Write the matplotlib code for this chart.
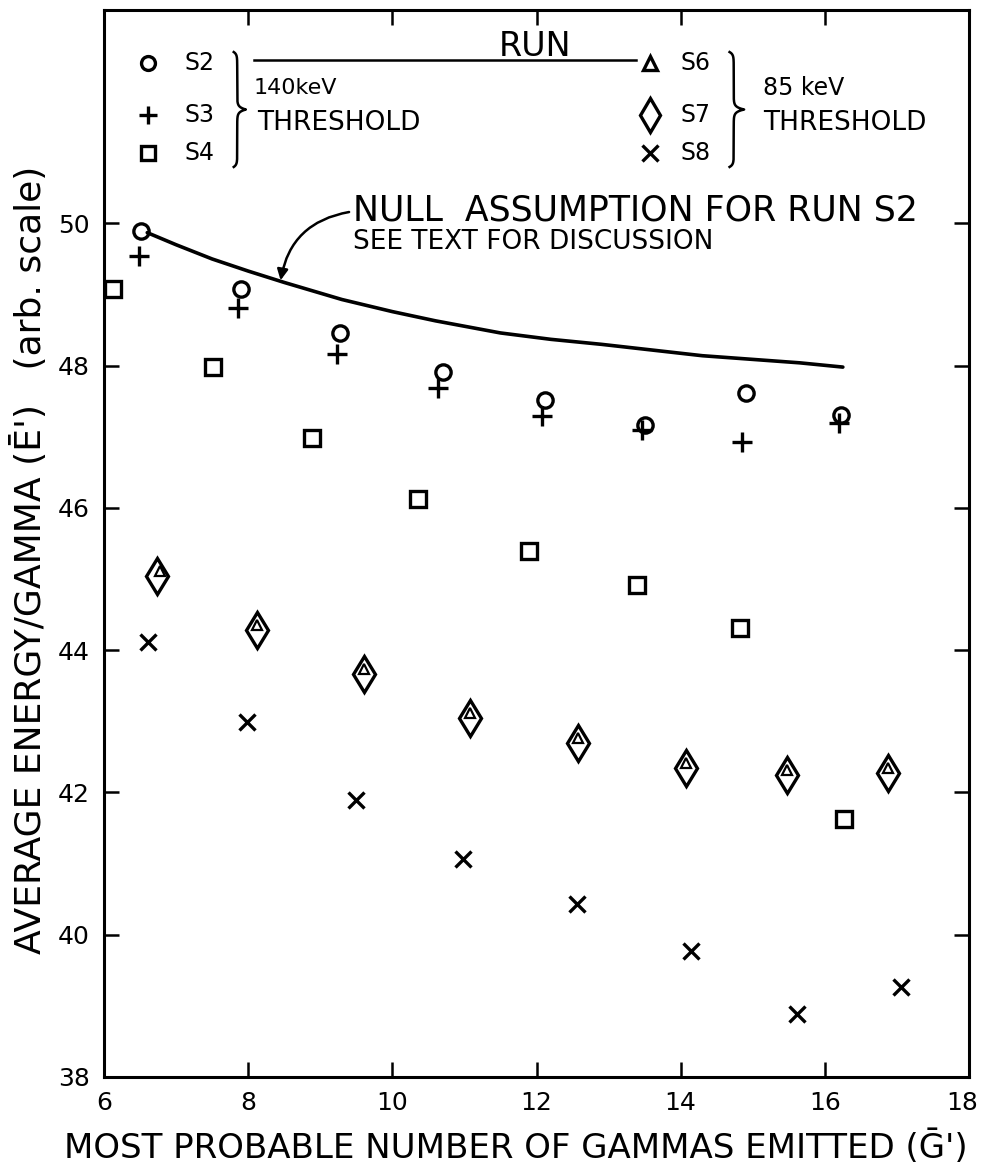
import numpy as np
import matplotlib.pyplot as plt
import matplotlib.transforms as mtransforms

plt.rcParams['font.family'] = ['DejaVu Sans']

# Runs S2-S4: 140 keV threshold
s2_x = [6.52, 7.90, 9.28, 10.70, 12.12, 13.50, 14.90, 16.22]
s2_y = [49.90, 49.08, 48.46, 47.91, 47.52, 47.17, 47.62, 47.31]
s3_x = [6.49, 7.86, 9.23, 10.63, 12.07, 13.46, 14.85, 16.19]
s3_y = [49.54, 48.81, 48.16, 47.68, 47.29, 47.10, 46.92, 47.20]
s4_x = [6.13, 7.51, 8.89, 10.36, 11.89, 13.39, 14.83, 16.27]
s4_y = [49.08, 47.98, 46.99, 46.12, 45.39, 44.91, 44.31, 41.63]

# Runs S6-S8: 85 keV threshold
s6_x = [6.77, 8.12, 9.61, 11.08, 12.57, 14.08, 15.47, 16.87]
s6_y = [45.11, 44.35, 43.73, 43.12, 42.77, 42.41, 42.32, 42.34]
s7_x = [6.73, 8.12, 9.61, 11.08, 12.57, 14.08, 15.47, 16.87]
s7_y = [45.04, 44.28, 43.66, 43.05, 42.70, 42.34, 42.25, 42.27]
s8_x = [6.61, 7.99, 9.49, 10.98, 12.56, 14.14, 15.62, 17.06]
s8_y = [44.11, 42.99, 41.90, 41.07, 40.43, 39.77, 38.89, 39.26]

# null assumption curve for run S2
null_x = [6.60, 7.00, 7.50, 8.00, 8.50, 9.30, 10.00, 10.60, 11.50, 12.20, 12.90, 14.30, 15.65, 16.25]
null_y = [49.87, 49.70, 49.50, 49.33, 49.17, 48.93, 48.76, 48.63, 48.46, 48.37, 48.30, 48.14, 48.04, 47.98]

x_ticks = [6, 8, 10, 12, 14, 16, 18]
y_ticks = [38, 40, 42, 44, 46, 48, 50]

fig = plt.figure(figsize=(9.82, 11.73), dpi=100)
ax = fig.add_axes([104 / 982, 1 - 1077 / 1173, 865 / 982, 1067 / 1173])
ax.set_xlim(6, 18)
ax.set_ylim(38, 53)

mk = dict(linestyle='none', color='black', markerfacecolor='none', markeredgewidth=2.4)
ax.plot(s2_x, s2_y, marker='o', markersize=11, **mk)
ax.plot(s3_x, s3_y, marker='+', markersize=14, **mk)
ax.plot(s4_x, s4_y, marker='s', markersize=11, **mk)
ax.plot(s7_x, s7_y, marker='d', markersize=18, **mk)
ax.plot(s6_x, s6_y, marker='^', markersize=6.5, linestyle='none', color='black',
        markerfacecolor='none', markeredgewidth=1.6)
ax.plot(s8_x, s8_y, marker='x', markersize=12, **mk)

ax.plot(null_x, null_y, color='black', lw=2.6, solid_capstyle='round')

ax.annotate('', xy=(8.45, 49.20), xytext=(9.40, 50.16),
            arrowprops=dict(arrowstyle='-|>', color='black', lw=1.8,
                            mutation_scale=16, shrinkA=0, shrinkB=0,
                            connectionstyle='arc3,rad=0.35'))
ax.text(9.45, 50.18, 'NULL  ASSUMPTION FOR RUN S2', fontsize=25, va='center', ha='left')
ax.text(9.45, 49.74, 'SEE TEXT FOR DISCUSSION', fontsize=19, va='center', ha='left')

# spines and ticks
for sp in ax.spines.values():
    sp.set_linewidth(2.2)
ax.set_xticks(x_ticks)
ax.set_yticks(y_ticks)
ax.tick_params(direction='in', length=11, width=1.8, top=True, right=True,
               labelsize=18, pad=10)
# keep the last x label inside the figure edge
last = ax.get_xticklabels()[-1]
last.set_transform(last.get_transform() +
                   mtransforms.ScaledTranslation(-5 / 72, 0, fig.dpi_scale_trans))

ax.set_xlabel("MOST PROBABLE NUMBER OF GAMMAS EMITTED (Ḡ')", fontsize=24.5, va='center')
ax.xaxis.set_label_coords((516 - 104) / 865, (1077 - 1148) / 1067)
ax.set_ylabel("AVERAGE ENERGY/GAMMA (Ē')   (arb. scale)", fontsize=26, va='center')
ax.yaxis.set_label_coords((30 - 104) / 865, (1077 - 560) / 1067)


def brace(x, y0, y1, tip):
    # curly brace in axes fraction, opening to the left, tip pointing right
    t = np.linspace(0, 1, 200)
    ym = (y0 + y1) / 2
    w = tip - x
    xs, ys = [], []
    for a, b, first in ((y0, ym, True), (ym, y1, False)):
        yy = a + (b - a) * t
        if first:
            xx = x - w * 0.4 * np.exp(-t * 25) + w * np.exp(-(1 - t) * 25)
        else:
            xx = x + w * np.exp(-t * 25) - w * 0.4 * np.exp(-(1 - t) * 25)
        xs.append(xx)
        ys.append(yy)
    ax.plot(np.concatenate(xs), np.concatenate(ys), color='black', lw=1.8,
            transform=ax.transAxes, clip_on=False)


# legend block
rows = [0.950, 0.9016, 0.866]
kw = dict(transform=ax.transAxes, linestyle='none', color='black',
          markerfacecolor='none', markeredgewidth=2.4)
for (m, ms), lab, yy in zip([('o', 10), ('+', 13), ('s', 10)], ['S2', 'S3', 'S4'], rows):
    ax.plot([0.051], [yy], marker=m, markersize=ms, **kw)
    ax.text(0.0925, yy, lab, transform=ax.transAxes, fontsize=17, va='center')
for (m, ms), lab, yy in zip([('^', 10), ('d', 17), ('x', 12)], ['S6', 'S7', 'S8'], rows):
    ax.plot([0.631], [yy], marker=m, markersize=ms, **kw)
    ax.text(0.667, yy, lab, transform=ax.transAxes, fontsize=17, va='center')

brace(0.154, 0.9606, 0.8529, 0.164)
brace(0.728, 0.9606, 0.8529, 0.740)
ax.text(0.1734, 0.927, '140keV', transform=ax.transAxes, fontsize=16, va='center')
ax.text(0.177, 0.894, 'THRESHOLD', transform=ax.transAxes, fontsize=19, va='center')
ax.text(0.762, 0.927, '85 keV', transform=ax.transAxes, fontsize=17, va='center')
ax.text(0.762, 0.894, 'THRESHOLD', transform=ax.transAxes, fontsize=19, va='center')
ax.text(0.498, 0.957, 'RUN', transform=ax.transAxes, fontsize=24, ha='center', va='baseline')
ax.plot([0.1734, 0.615], [0.9535, 0.9535], color='black', lw=1.8, transform=ax.transAxes)

fig.savefig('out.png', dpi=100)
